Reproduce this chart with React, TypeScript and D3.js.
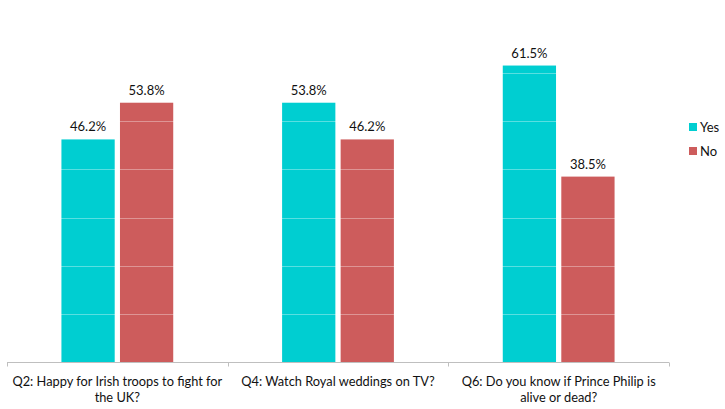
import { useEffect, useRef } from 'react';
import * as d3 from 'd3';

// ── Data ──
const categories = [
  'Q2: Happy for Irish troops to fight for\nthe UK?',
  'Q4: Watch Royal weddings on TV?',
  'Q6: Do you know if Prince Philip is\nalive or dead?',
];
const series = ['Yes', 'No'];
const yesValues = [46.2, 53.8, 61.5];
const noValues = [53.8, 46.2, 38.5];
const gridTicks = [10, 20, 30, 40, 50, 60, 70];

const COLORS: Record<string, string> = { Yes: '#00CED1', No: '#CD5C5C' };
const FONT = 'Lato, "Open Sans", sans-serif';

export default function App() {
  const svgRef = useRef<SVGSVGElement>(null);

  useEffect(() => {
    document.body.style.margin = '0';
    const svgEl = svgRef.current;
    if (!svgEl) return;

    const width = 725;
    const height = 409;
    const svg = d3.select(svgEl);
    svg.selectAll('*').remove();
    svg.attr('width', width).attr('height', height).style('background', '#fff').style('display', 'block');

    const x = d3.scaleBand<number>().domain(d3.range(categories.length)).range([7, 669]);
    const inner = d3.scaleBand<string>().domain(series).range([0, x.bandwidth()])
      .paddingInner(0.09).paddingOuter(0.93);
    const y = d3.scaleLinear().domain([0, 70]).range([362.5, 24.5]);

    const valuesFor: Record<string, number[]> = { Yes: yesValues, No: noValues };

    // ── Bars ──
    const bars = svg.append('g');
    series.forEach(s => {
      valuesFor[s].forEach((v, i) => {
        const bx = (x(i) ?? 0) + (inner(s) ?? 0);
        bars.append('rect')
          .attr('x', bx)
          .attr('y', y(v))
          .attr('width', inner.bandwidth())
          .attr('height', y(0) - y(v))
          .attr('fill', COLORS[s]);
        bars.append('text')
          .attr('x', bx + inner.bandwidth() / 2)
          .attr('y', y(v) - 8)
          .attr('text-anchor', 'middle')
          .attr('font-family', FONT)
          .attr('font-size', 13)
          .attr('fill', '#111')
          .text(`${v.toFixed(1)}%`);
      });
    });

    // ── Gridlines (light, show over bars) ──
    svg.append('g').selectAll('line').data(gridTicks).join('line')
      .attr('x1', 7).attr('x2', 669)
      .attr('y1', d => Math.round(y(d)) + 0.5).attr('y2', d => Math.round(y(d)) + 0.5)
      .attr('stroke', '#fff').attr('stroke-opacity', 0.35).attr('stroke-width', 1);

    // ── Axis ──
    const axisY = 362.5;
    const ax = svg.append('g');
    ax.append('line').attr('x1', 7).attr('x2', 669).attr('y1', axisY).attr('y2', axisY)
      .attr('stroke', '#bfbfbf').attr('stroke-width', 1);
    const tickXs = [...d3.range(categories.length).map(i => x(i) ?? 0), 669];
    ax.selectAll('line.tick').data(tickXs).join('line').attr('class', 'tick')
      .attr('x1', d => Math.round(d) + 0.5).attr('x2', d => Math.round(d) + 0.5)
      .attr('y1', axisY).attr('y2', axisY + 4)
      .attr('stroke', '#bfbfbf');

    categories.forEach((c, i) => {
      const t = ax.append('text')
        .attr('x', (x(i) ?? 0) + x.bandwidth() / 2)
        .attr('y', 386)
        .attr('text-anchor', 'middle')
        .attr('font-family', FONT)
        .attr('font-size', 12.8)
        .attr('fill', '#111');
      c.split('\n').forEach((line, j) => {
        t.append('tspan').attr('x', (x(i) ?? 0) + x.bandwidth() / 2).attr('dy', j === 0 ? 0 : 16).text(line);
      });
    });

    // ── Legend ──
    const lg = svg.append('g').attr('transform', 'translate(689,123)');
    series.forEach((s, i) => {
      lg.append('rect').attr('x', 0).attr('y', i * 24).attr('width', 8).attr('height', 8).attr('fill', COLORS[s]);
      lg.append('text').attr('x', 11).attr('y', i * 24 + 8.5)
        .attr('font-family', FONT).attr('font-size', 13).attr('fill', '#111').text(s);
    });
  }, []);

  return <svg ref={svgRef} />;
}
